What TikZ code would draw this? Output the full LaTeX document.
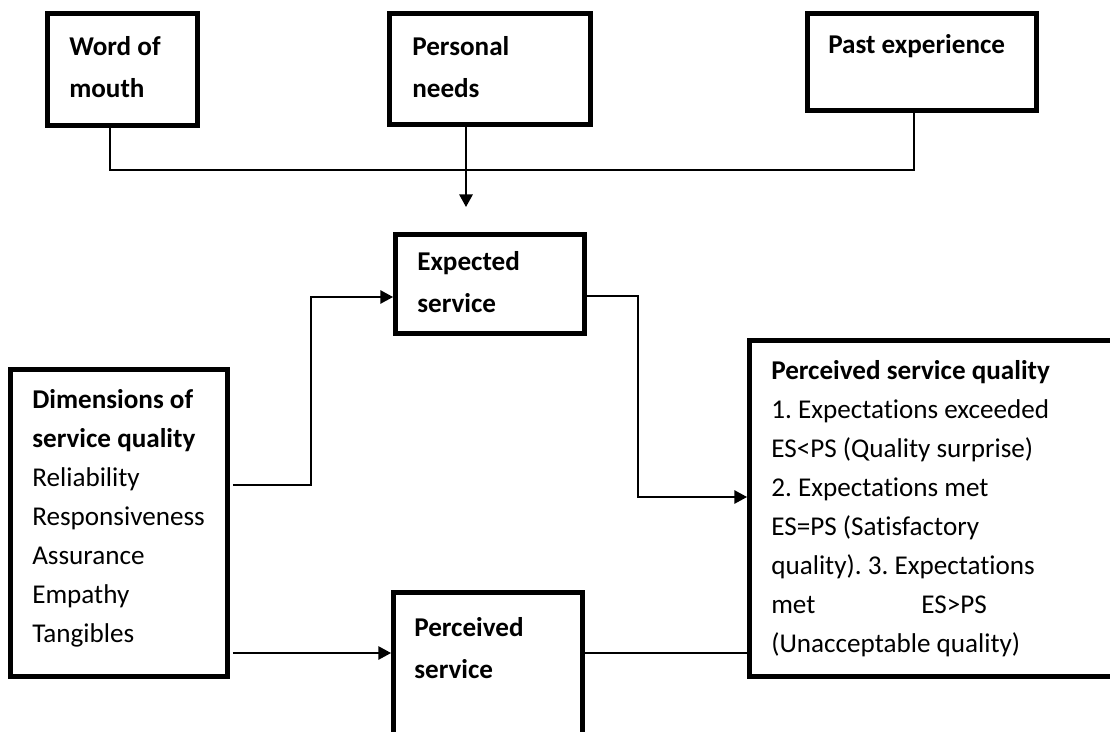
\documentclass[tikz,border=0pt]{standalone}
\usepackage{fontspec}
\setmainfont{Carlito}[Ligatures=NoCommon]
\frenchspacing
\usetikzlibrary{arrows.meta, fit}

\begin{document}
\begin{tikzpicture}[
  x=0.025cm, y=-0.025cm,
  box/.style={rectangle, draw=black, line width=3.5pt, inner sep=0pt},
  txt/.style={anchor=base west, align=left, inner sep=0pt, font=\fontsize{19.3}{27.7}\selectfont},
  head/.style={txt, font=\fontsize{19.3}{29.5}\selectfont\bfseries},
  link/.style={line width=1pt},
  arr/.style={-{Triangle[length=9pt, width=9.5pt]}, line width=1pt}
]
\clip (0,0) rectangle (1110,731);

% sources
\node[box, fit={(47.5,13.5) (197.5,125.5)}] (wom) {};
\node[box, fit={(389.5,13.5) (590.5,124.5)}] (needs) {};
\node[box, fit={(807.5,13.5) (1036.5,110.5)}] (past) {};
\node[head] (womtxt) at (69,97) {Word of\\mouth};
\node[head] (needstxt) at (412,97) {Personal\\needs};
\node[head] (pasttxt) at (828,53) {Past experience};

% services
\node[box, fit={(395.5,234.5) (584.5,333.5)}] (expected) {};
\node[box, fit={(393.5,592.5) (582.5,745)}] (perceived) {};
\node[head] (expectedtxt) at (417,312) {Expected\\service};
\node[head] (perceivedtxt) at (414,678) {Perceived\\service};

\node[box, fit={(10.5,369.5) (227.5,676.5)}] (dims) {};
\node[txt] (dimstxt) at (32,642) {\textbf{Dimensions of}\\\textbf{service quality}\\Reliability\\Responsiveness\\Assurance\\Empathy\\Tangibles};

\node[box, fit={(749.5,340.5) (1120,676.5)}] (quality) {};
\node[txt] (qualitytxt) at (771,652) {\textbf{Perceived service quality}\\1. Expectations exceeded\\ES<PS (Quality surprise)\\2. Expectations met\\ES=PS (Satisfactory\\quality). 3. Expectations\\\makebox[3.75cm][l]{met}ES>PS\\(Unacceptable quality)};

% connectors
\coordinate (merge) at (466,170);
\coordinate (drop) at (466,207);
\draw[link] (wom.south -| 110,0) |- (merge) -| (914,0 |- past.south);
\draw[arr, line width=1.5pt] (needs.south -| 466,0) -- (drop);
\draw[arr, shorten <=2pt] (dims.east |- 0,485) -- (311,485) |- (expected.west |- 0,297);
\draw[arr] (expected.east |- 0,296) -| (638,497) -- (quality.west |- 0,497);
\draw[arr, shorten <=2pt] (dims.east |- 0,653) -- (perceived.west |- 0,653);
\draw[link] (perceived.east |- 0,653) -- (quality.west |- 0,653);
\end{tikzpicture}
\end{document}
